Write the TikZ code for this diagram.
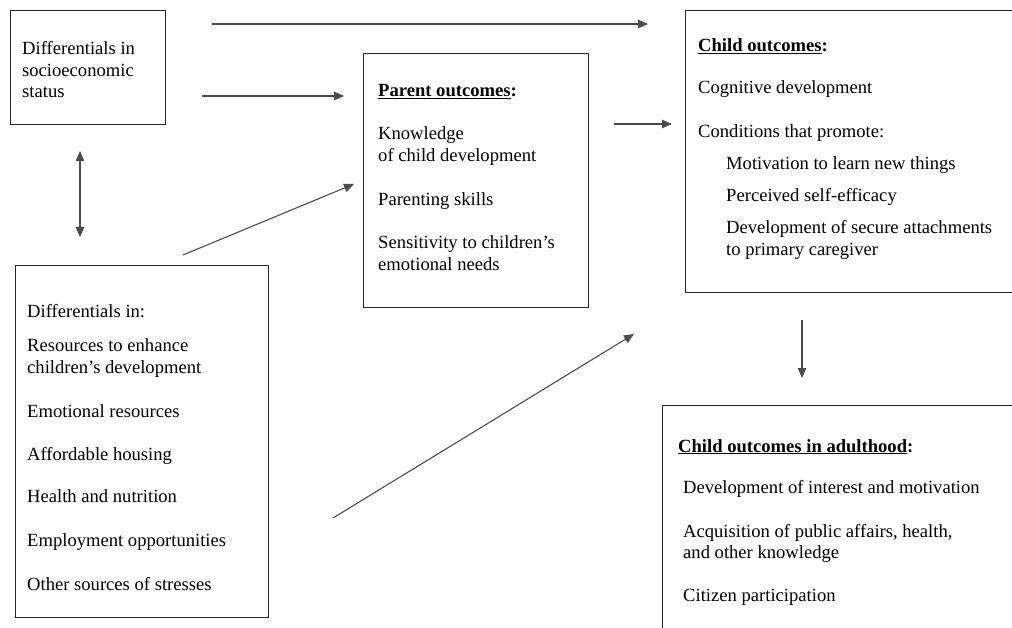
\documentclass[tikz,border=0pt]{standalone}
\usepackage{fontspec}
\setmainfont{Liberation Serif}
\usetikzlibrary{arrows.meta}
\begin{document}
\begin{tikzpicture}[x=1pt,y=-1pt,
  box/.style={draw=black!85,line width=1.3pt,anchor=north west,inner sep=0pt},
  txt/.style={anchor=base west,inner sep=0pt,font=\fontsize{18.6}{22}\selectfont},
  tip/.style={Triangle[length=10pt,width=8.5pt]},
  link/.style={draw=black!70,line width=1.1pt,-{Triangle[length=10pt,width=8.5pt]}},
  both/.style={draw=black!70,line width=1.1pt,{Triangle[length=10pt,width=8.5pt]}-{Triangle[length=10pt,width=8.5pt]}}]
\useasboundingbox (0,0) rectangle (1012,628);
\clip (0,0) rectangle (1012,628);

% boxes
\node[box,minimum width=155pt,minimum height=114pt] (ses) at (10,10) {};
\node[box,minimum width=225pt,minimum height=254pt] (par) at (363,53) {};
\node[box,minimum width=345pt,minimum height=282pt] (chi) at (685,10) {};
\node[box,minimum width=370pt,minimum height=260pt] (adu) at (662,405) {};
\node[box,minimum width=253pt,minimum height=352pt] (dif) at (15,265) {};

% socioeconomic status
\node[txt] (s1) at (22,55) {Differentials in};
\node[txt] (s2) at (22,76.5) {socioeconomic};
\node[txt] (s3) at (22,98) {status};

% parent outcomes
\node[txt] (p0) at (378,97) {\textbf{\underline{Parent outcomes}:}};
\node[txt] (p1) at (378,140) {Knowledge};
\node[txt] (p2) at (378,162) {of child development};
\node[txt] (p3) at (378,205.5) {Parenting skills};
\node[txt] (p4) at (378,249) {Sensitivity to children’s};
\node[txt] (p5) at (378,270.5) {emotional needs};

% child outcomes
\node[txt] (c0) at (698,52) {\textbf{\underline{Child outcomes}:}};
\node[txt] (c1) at (698,94) {Cognitive development};
\node[txt] (c2) at (698,138) {Conditions that promote:};
\node[txt] (c3) at (726,170) {Motivation to learn new things};
\node[txt] (c4) at (726,202) {Perceived self-efficacy};
\node[txt] (c5) at (726,234) {Development of secure attachments};
\node[txt] (c6) at (726,256) {to primary caregiver};

% child outcomes in adulthood
\node[txt] (a0) at (678,452) {\textbf{\underline{Child outcomes in adulthood}:}};
\node[txt] (a1) at (683,493) {Development of interest and motivation};
\node[txt] (a2) at (683,537) {Acquisition of public affairs, health,};
\node[txt] (a3) at (683,558) {and other knowledge};
\node[txt] (a4) at (683,601) {Citizen participation};

% resource differentials
\node[txt] (d0) at (27,318) {Differentials in:};
\node[txt] (d1) at (27,352) {Resources to enhance};
\node[txt] (d2) at (27,373) {children’s development};
\node[txt] (d3) at (27,417) {Emotional resources};
\node[txt] (d4) at (27,460) {Affordable housing};
\node[txt] (d5) at (27,502) {Health and nutrition};
\node[txt] (d6) at (27,546) {Employment opportunities};
\node[txt] (d7) at (27,590) {Other sources of stresses};

% arrow end points
\coordinate (e1a) at (212,24);  \coordinate (e1b) at (648,24);
\coordinate (e2a) at (202,96);  \coordinate (e2b) at (344,96);
\coordinate (e3a) at (80,151);  \coordinate (e3b) at (80,237);
\coordinate (e4a) at (183,255); \coordinate (e4b) at (354,184);
\coordinate (e5a) at (614,124); \coordinate (e5b) at (672,124);
\coordinate (e6a) at (802,320); \coordinate (e6b) at (802,378);
\coordinate (e7a) at (333,518); \coordinate (e7b) at (634,334);

\draw[link] (e1a) -- (e1b);
\draw[link] (e2a) -- (e2b);
\draw[both] (e3a) -- (e3b);
\draw[link] (e4a) -- (e4b);
\draw[link] (e5a) -- (e5b);
\draw[link] (e6a) -- (e6b);
\draw[link] (e7a) -- (e7b);
\end{tikzpicture}
\end{document}
